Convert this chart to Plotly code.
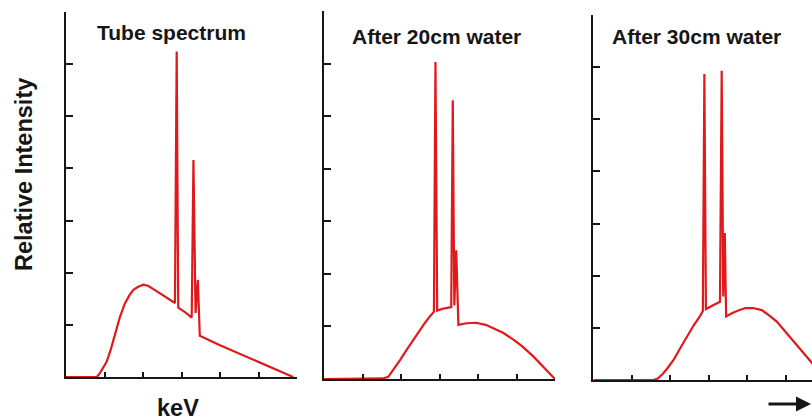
import plotly.graph_objects as go

# X-ray spectra (energy in keV, relative intensity) for three cases
kev_tube = [0, 16.0, 17.7, 19.5, 21.1, 23.2, 25.5, 28.0, 30.6, 33.0, 35.0, 37.5, 40.2, 42.6,
            46.0, 50.0, 53.5, 56.6, 57.5, 58.3, 62.0, 65.3, 66.2, 67.3, 68.5, 69.5,
            80.0, 90.0, 100.0, 110.0, 118.0]
int_tube = [0, 0, 0.08, 0.18, 0.29, 0.52, 0.84, 1.15, 1.41, 1.57, 1.67, 1.73, 1.77, 1.75,
            1.67, 1.58, 1.50, 1.42, 6.24, 1.33, 1.24, 1.14, 4.16, 1.23, 1.86, 0.79,
            0.61, 0.45, 0.29, 0.13, 0]

kev_20cm = [0, 27.5, 30.5, 33.4, 36.0, 39.5, 43.0, 46.4, 50.0, 52.5, 55.0, 57.1, 57.9, 58.8,
            62.0, 66.1, 66.9, 67.7, 68.7, 69.8, 74.0, 79.0, 84.0, 88.0, 93.0, 98.4,
            103.0, 108.7, 114.0, 120.0]
int_20cm = [0, 0, 0.01, 0.04, 0.17, 0.36, 0.56, 0.75, 0.93, 1.07, 1.19, 1.28, 6.03, 1.30,
            1.34, 1.37, 5.30, 1.40, 2.45, 1.03, 1.06, 1.07, 1.03, 0.97, 0.88, 0.75,
            0.62, 0.43, 0.22, 0]

kev_30cm = [0, 31.2, 33.5, 36.4, 39.0, 41.6, 45.0, 48.5, 52.0, 55.5, 56.9, 57.7, 58.5, 62.0,
            65.8, 66.7, 67.5, 68.3, 69.0, 72.0, 75.0, 79.0, 83.0, 87.5, 91.0, 95.3,
            99.0, 103.9, 108.0, 113.4, 117.0, 120.0]
int_30cm = [0, 0, 0.03, 0.13, 0.25, 0.38, 0.60, 0.83, 1.04, 1.23, 1.32, 5.87, 1.36, 1.43,
            1.50, 5.93, 1.60, 2.82, 1.22, 1.28, 1.33, 1.38, 1.38, 1.34, 1.25, 1.12,
            0.96, 0.77, 0.58, 0.35, 0.18, 0]

panel_titles = ["Tube spectrum", "After 20cm water", "After 30cm water"]
y_label = "Relative Intensity"
x_label = "keV"

W, H = 812, 420
RED = "#e01a1c"
INK = "#161616"
FONT = "Liberation Sans, Arial, sans-serif"

fig = go.Figure()
series = [(kev_tube, int_tube), (kev_20cm, int_20cm), (kev_30cm, int_30cm)]
for i, (xs, ys) in enumerate(series):
    suffix = "" if i == 0 else str(i + 1)
    fig.add_trace(go.Scatter(x=xs, y=ys, mode="lines",
                             line=dict(color=RED, width=2.2),
                             xaxis="x" + suffix, yaxis="y" + suffix,
                             showlegend=False, hoverinfo="skip"))

# panel placement in pixels: (left, right, bottom, top)
boxes = [(66, 297, 377, 12), (324, 555, 379, 11), (593.3, 812, 380, 15)]
x_ranges = [[0, 120], [0, 120], [0, (812 - 593.3) / 1.925]]

layout = dict(width=W, height=H, margin=dict(l=0, r=0, t=0, b=0),
              paper_bgcolor="white", plot_bgcolor="white", showlegend=False)
for i, ((l, r, b, t), xr) in enumerate(zip(boxes, x_ranges)):
    suffix = "" if i == 0 else str(i + 1)
    layout["xaxis" + suffix] = dict(
        domain=[l / W, r / W], range=xr, anchor="y" + suffix,
        showgrid=False, zeroline=False, showticklabels=False,
        showline=True, linecolor=INK, linewidth=2,
        ticks="inside", ticklen=5, tickwidth=1.5, tickcolor=INK,
        tick0=0, dtick=20, fixedrange=True)
    layout["yaxis" + suffix] = dict(
        domain=[1 - b / H, 1 - t / H], range=[0, 7], anchor="x" + suffix,
        showgrid=False, zeroline=False, showticklabels=False,
        showline=True, linecolor=INK, linewidth=2,
        ticks="inside", ticklen=7, tickwidth=1.5, tickcolor=INK,
        tick0=0, dtick=1, fixedrange=True)
fig.update_layout(**layout)

title_pos = [(95, 33), (350, 36), (610, 36)]
for (px, py), txt in zip(title_pos, panel_titles):
    fig.add_annotation(x=px / W, y=1 - py / H, xref="paper", yref="paper",
                       text="<b>" + txt + "</b>", showarrow=False,
                       xanchor="left", yanchor="middle",
                       font=dict(family=FONT, size=21, color=INK))

fig.add_annotation(x=24 / W, y=1 - 175 / H, xref="paper", yref="paper",
                   text="<b>" + y_label + "</b>", showarrow=False, textangle=-90,
                   xanchor="center", yanchor="middle",
                   font=dict(family=FONT, size=23.5, color=INK))
fig.add_annotation(x=178 / W, y=1 - 408 / H, xref="paper", yref="paper",
                   text="<b>" + x_label + "</b>", showarrow=False,
                   xanchor="center", yanchor="middle",
                   font=dict(family=FONT, size=23.5, color=INK))

# direction arrow at the lower right
fig.add_annotation(x=811 / W, y=1 - 404 / H, xref="paper", yref="paper",
                   ax=-44, ay=0, axref="pixel", ayref="pixel", text="",
                   showarrow=True, arrowhead=2, arrowsize=1, arrowwidth=3,
                   arrowcolor=INK)

fig.write_html("out.html", config=dict(displayModeBar=False))
